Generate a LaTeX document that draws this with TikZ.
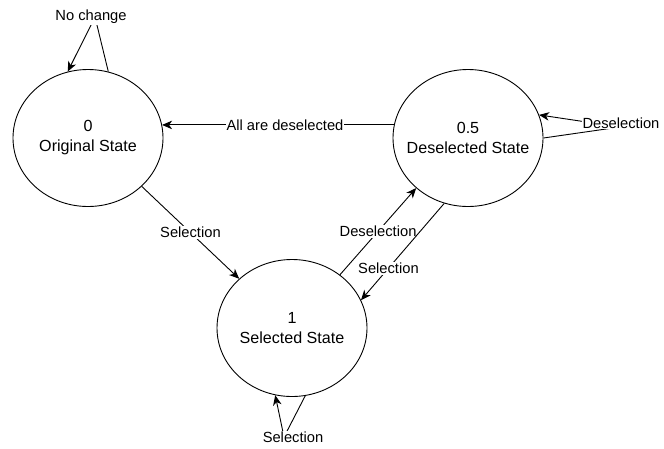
\documentclass[tikz,border=0pt]{standalone}
\usepackage{fontspec}
\setmainfont{Liberation Sans}
\usetikzlibrary{shapes.geometric,arrows.meta}
\begin{document}
\begin{tikzpicture}[x=1pt,y=-1pt,
  state/.style={draw,ellipse,line width=0.9pt,minimum width=150pt,minimum height=137pt,inner sep=0pt},
  stxt/.style={align=center,font=\fontsize{16.1}{20}\selectfont},
  conn/.style={line width=0.9pt},
  arr/.style={conn,-{Stealth[length=10pt,width=8.5pt,inset=3pt]}},
  lbl/.style={fill=white,inner sep=1pt,font=\fontsize{14.7}{16}\selectfont}]
\useasboundingbox (0,0) rectangle (664,448);
\node[state,label={[stxt]center:0\\Original State}] (s0) at (88,138) {};
\node[state,label={[stxt]center:0.5\\Deselected State}] (s05) at (468,138) {};
\node[state,label={[stxt]center:1\\Selected State}] (s1) at (292,328) {};
% All are deselected
\draw[arr] (s05.170) -- node[lbl,pos=0.47]{All are deselected} (s0.10);
% No change loop
\coordinate (w0) at (95,17);
\draw[arr] (s0.73) -- (w0) -- (s0.107);
\node[lbl] (l0) at (91,17) {No change};
% Deselection loop
\coordinate (w05) at (620,127);
\draw[arr] (s05.0) -- (w05) -- (s05.18);
\node[lbl] (l05) at (621,123) {Deselection};
% Selection loop on 1
\coordinate (w1) at (284,437);
\draw[arr] (s1.281) -- (w1) -- (s1.256.6);
\node[lbl] (l1) at (293,437) {Selection};
% Selection 0 -> 1
\draw[arr] (s0.-42.3) -- node[lbl]{Selection} (s1.137.8);
% Deselection 1 -> 0.5
\draw[arr] (s1.48.9) -- node[lbl]{Deselection} (s05.224.5);
% Selection 0.5 -> 1
\draw[arr] (s05.250.6) -- node[lbl,pos=0.67]{Selection} (s1.22.9);
\end{tikzpicture}
\end{document}
